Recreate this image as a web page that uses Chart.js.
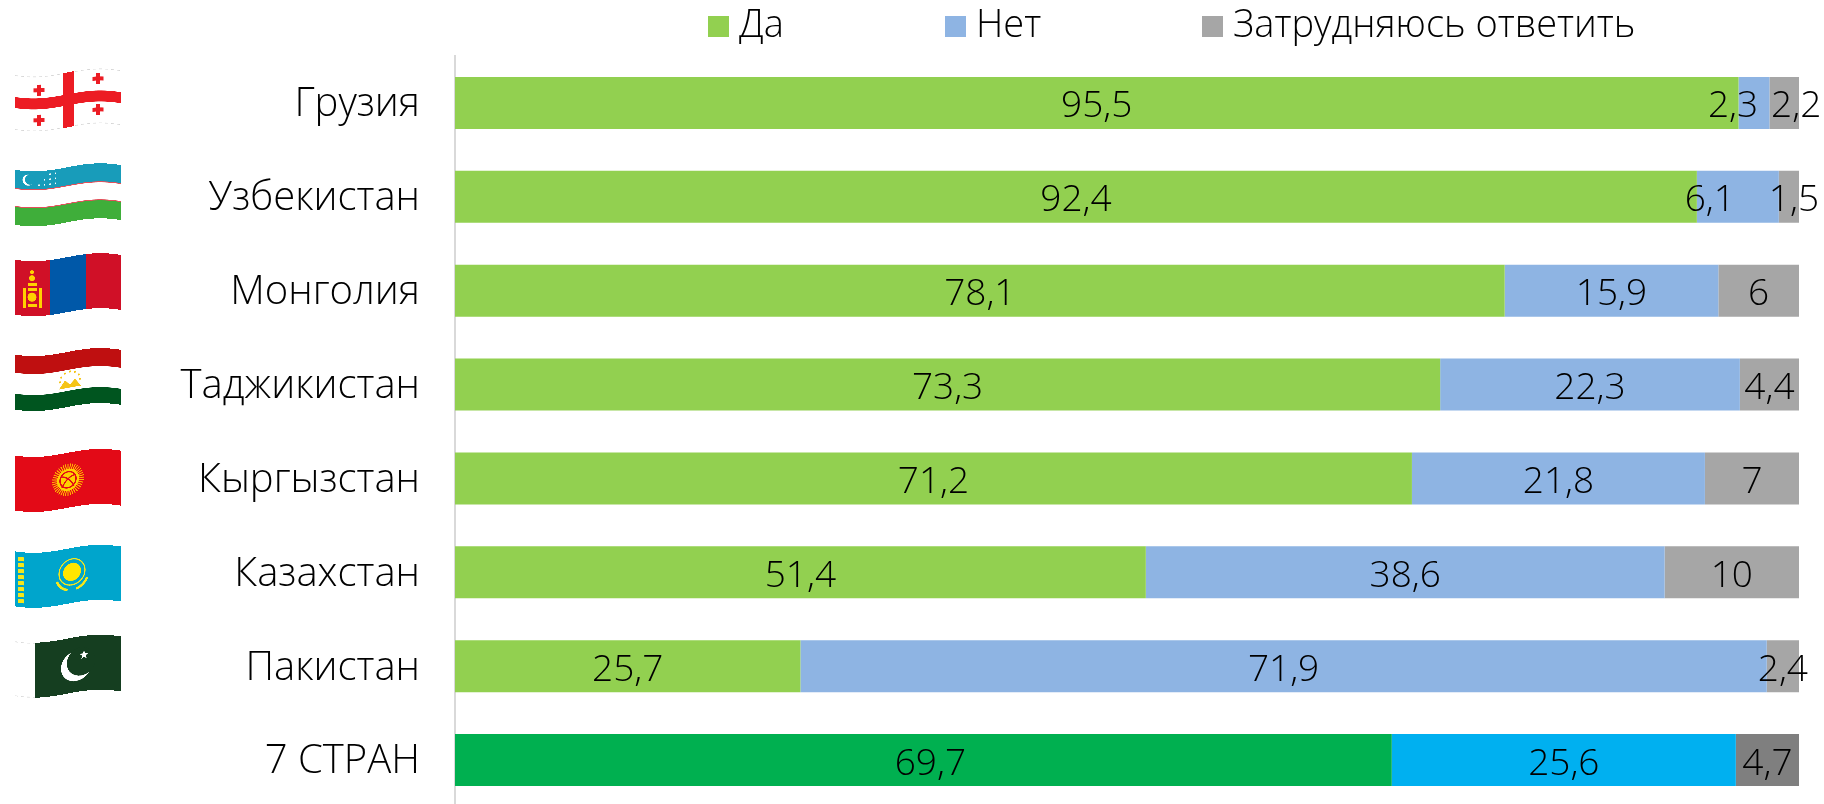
<!DOCTYPE html>
<html><head><meta charset="utf-8">
<style>html,body{margin:0;padding:0;background:#fff;overflow:hidden;width:1824px;height:804px}canvas{display:block}</style>
<script src="https://cdn.jsdelivr.net/npm/chart.js@4"></script></head>
<body><canvas id="c" width="1824" height="810"></canvas>
<script>
const categories=['Грузия','Узбекистан','Монголия','Таджикистан','Кыргызстан','Казахстан','Пакистан','7 СТРАН'];
const seriesNames=['Да','Нет','Затрудняюсь ответить'];
const yes=[95.5,92.4,78.1,73.3,71.2,51.4,25.7,69.7];
const no=[2.3,6.1,15.9,22.3,21.8,38.6,71.9,25.6];
const hard=[2.2,1.5,6,4.4,7,10,2.4,4.7];
const yesColors=['#92D050','#92D050','#92D050','#92D050','#92D050','#92D050','#92D050','#00B050'];
const noColors=['#8EB4E3','#8EB4E3','#8EB4E3','#8EB4E3','#8EB4E3','#8EB4E3','#8EB4E3','#00B0F0'];
const hardColors=['#A6A6A6','#A6A6A6','#A6A6A6','#A6A6A6','#A6A6A6','#A6A6A6','#A6A6A6','#7F7F7F'];
const FONT='"Open Sans"';const WT=300;
// manual nudges of value labels, [series,category,dx]
const labelNudges=[[1,0,-21],[2,0,12],[1,1,-28],[2,1,5],[0,7,7]];

function cross(g,x,y,s,t,c){g.fillStyle=c;g.fillRect(x-s/2,y-t/2,s,t);g.fillRect(x-t/2,y-s/2,t,s);}
function star(g,x,y,r,c){g.fillStyle=c;g.beginPath();for(let i=0;i<10;i++){const a=-Math.PI/2+i*Math.PI/5,q=i%2?r*.42:r;g.lineTo(x+q*Math.cos(a),y+q*Math.sin(a));}g.closePath();g.fill();}
function disc(g,x,y,r,c){g.fillStyle=c;g.beginPath();g.arc(x,y,r,0,7);g.fill();}
function edge(g,x0){g.strokeStyle='#D5D5D5';g.lineWidth=.6;g.setLineDash([3,3]);g.beginPath();g.moveTo(x0,.5);g.lineTo(W,.5);g.moveTo(x0,H-.5);g.lineTo(W,H-.5);g.stroke();g.setLineDash([]);}
const W=106,H=55;
const flags=[
 {dy:-3,draw(g){g.fillStyle='#fff';g.fillRect(0,0,W,H);edge(g,0);const r='#EC1C24';g.fillStyle=r;g.fillRect(0,22,W,11);g.fillRect(48,0,11,H);
   [[24,14],[83,10],[24,44],[83,41]].forEach(p=>cross(g,p[0],p[1],11,4,r));}},
 {dy:-2,draw(g){g.fillStyle='#fff';g.fillRect(0,0,W,H);g.fillStyle='#189CBA';g.fillRect(0,0,W,18);g.fillStyle='#E2505A';g.fillRect(0,18,W,1);g.fillRect(0,36,W,1);g.fillStyle='#3FAE3A';g.fillRect(0,37,W,18);
   disc(g,13,9,5.5,'#fff');disc(g,15,8.5,5,'#189CBA');for(let i=0;i<4;i++)for(let j=0;j<3;j++)if(i+j>1)disc(g,24+i*5.5,4+j*5,.8,'#fff');}},
 {dy:-6,draw(g){g.fillStyle='#D01027';g.fillRect(0,0,W,H);g.fillStyle='#0058A8';g.fillRect(35,0,36,H);const y='#FFD100';
   disc(g,17,17,3,y);disc(g,17,11,2,y);g.fillStyle=y;g.fillRect(8,27,3,20);g.fillRect(24,27,3,20);g.fillRect(13,22,9,3);g.fillRect(13,27,9,3);disc(g,17,36,4.5,y);g.fillRect(13,43,9,3);}},
 {dy:-5,draw(g){g.fillStyle='#fff';g.fillRect(0,0,W,H);g.fillStyle='#BF0F10';g.fillRect(0,0,W,18);g.fillStyle='#00551F';g.fillRect(0,39,W,16);
   const y='#F5C518';g.fillStyle=y;g.beginPath();g.moveTo(44,36);g.lineTo(50,28);g.lineTo(55,33);g.lineTo(60,28);g.lineTo(66,36);g.closePath();g.fill();
   for(let i=0;i<7;i++){const a=Math.PI+i*Math.PI/6;disc(g,55+10*Math.cos(a),29+9*Math.sin(a),1,y);}}},
 {dy:2,draw(g){g.fillStyle='#E30A17';g.fillRect(0,0,W,H);for(let i=0;i<40;i++){const a=i*Math.PI/20;g.strokeStyle='#FFB300';g.lineWidth=1;g.beginPath();g.moveTo(53+10*Math.cos(a),27+10*Math.sin(a));g.lineTo(53+16*Math.cos(a),27+16*Math.sin(a));g.stroke();}
   disc(g,53,27,11,'#FFD100');g.strokeStyle='#E30A17';g.lineWidth=1.4;g.beginPath();g.arc(53,27,8,0,7);g.moveTo(46,23);g.quadraticCurveTo(54,24,59,34);g.moveTo(60,23);g.quadraticCurveTo(52,24,47,34);g.stroke();}},
 {dy:4,draw(g){g.fillStyle='#00A5CC';g.fillRect(0,0,W,H);g.fillStyle='#F5E61B';for(let i=0;i<8;i++){g.fillRect(3,5+i*6,6,4);}
   disc(g,57,24,9,'#FFE600');g.strokeStyle='#F5E61B';g.lineWidth=1.2;g.beginPath();g.arc(57,24,13,0,7);g.stroke();g.lineWidth=2.4;g.beginPath();g.arc(57,26,16,.35,1.3);g.stroke();g.beginPath();g.arc(57,26,16,1.85,2.8);g.stroke();}},
 {dy:0,draw(g){g.fillStyle='#fff';g.fillRect(0,0,W,H);edge(g,0);g.fillStyle='#153E20';g.fillRect(20,0,W-20,H);disc(g,61,29,15,'#fff');disc(g,66,25,14.2,'#153E20');star(g,69,19,4.6,'#fff');}}
];
function wave(t){return 4*Math.cos(2*Math.PI*(t-.17)/1.26);}
const S=3;
const flagImages=flags.map(f=>{const o=document.createElement('canvas');o.width=W*S;o.height=H*S;const g=o.getContext('2d');g.scale(S,S);f.draw(g);return o;});
function swatch(c){const o=document.createElement('canvas');o.width=21;o.height=21;const g=o.getContext('2d');g.fillStyle=c;g.fillRect(0,0,21,21);return o;}

const flagPlugin={id:'flags',afterDraw(chart){const ctx=chart.ctx,ys=chart.scales.y;ctx.save();ctx.imageSmoothingEnabled=true;
  flags.forEach((f,i)=>{const cy=ys.getPixelForValue(i)+f.dy,X=15,Y=cy-H/2;
    for(let x=0;x<W;x++){ctx.drawImage(flagImages[i],x*S,0,S,H*S,X+x,Y+wave(x/W),1,H);}});
  ctx.restore();}};
const valueLabels={id:'valueLabels',afterDatasetsDraw(chart){const ctx=chart.ctx;ctx.save();ctx.font=`${WT} 37px ${FONT}`;ctx.fillStyle='#000';ctx.textAlign='center';ctx.textBaseline='middle';
  chart.data.datasets.forEach((d,s)=>{chart.getDatasetMeta(s).data.forEach((b,i)=>{const n=labelNudges.find(q=>q[0]===s&&q[1]===i);const dx=n?n[2]:0;
    ctx.fillText(String(d.data[i]).replace('.',','),(b.base+b.x)/2+dx,b.y+4);});});ctx.restore();}};
const PAD=170;
const placeLegend={id:'placeLegend',afterLayout(chart){const l=chart.legend;l.left=717-PAD;l.right=1824;l.top=7-PAD;l.bottom=70;}};

new Chart(document.getElementById('c'),{type:'bar',
 data:{labels:categories,datasets:[
  {label:seriesNames[0],data:yes,backgroundColor:yesColors},
  {label:seriesNames[1],data:no,backgroundColor:noColors},
  {label:seriesNames[2],data:hard,backgroundColor:hardColors}]},
 options:{indexAxis:'y',responsive:false,animation:false,devicePixelRatio:1,
  categoryPercentage:1,barPercentage:.554,
  layout:{padding:{top:55,left:0,right:25,bottom:3}},
  scales:{
   x:{stacked:true,min:0,max:100,display:false,ticks:{display:false}},
   y:{stacked:true,grid:{display:false,drawTicks:false},border:{display:true,color:'#D9D9D9',width:2},
      ticks:{color:'#000',padding:35,labelOffset:2,font:{family:FONT,size:40,weight:WT}},afterFit(a){a.width=455;a.paddingTop=0;a.paddingBottom=0;}}},
  plugins:{tooltip:{enabled:false},
   legend:{position:'top',align:'start',maxHeight:1,labels:{padding:PAD,boxWidth:21,boxHeight:21,usePointStyle:true,pointStyleWidth:3,color:'#000',font:{family:FONT,size:38,weight:WT},
     generateLabels(c){return c.data.datasets.map((d,i)=>({text:d.label,pointStyle:swatch(d.backgroundColor[0]),fillStyle:d.backgroundColor[0],strokeStyle:d.backgroundColor[0],lineWidth:0,datasetIndex:i,hidden:false}));}}}}},
 plugins:[valueLabels,flagPlugin,placeLegend]});
</script></body></html>
